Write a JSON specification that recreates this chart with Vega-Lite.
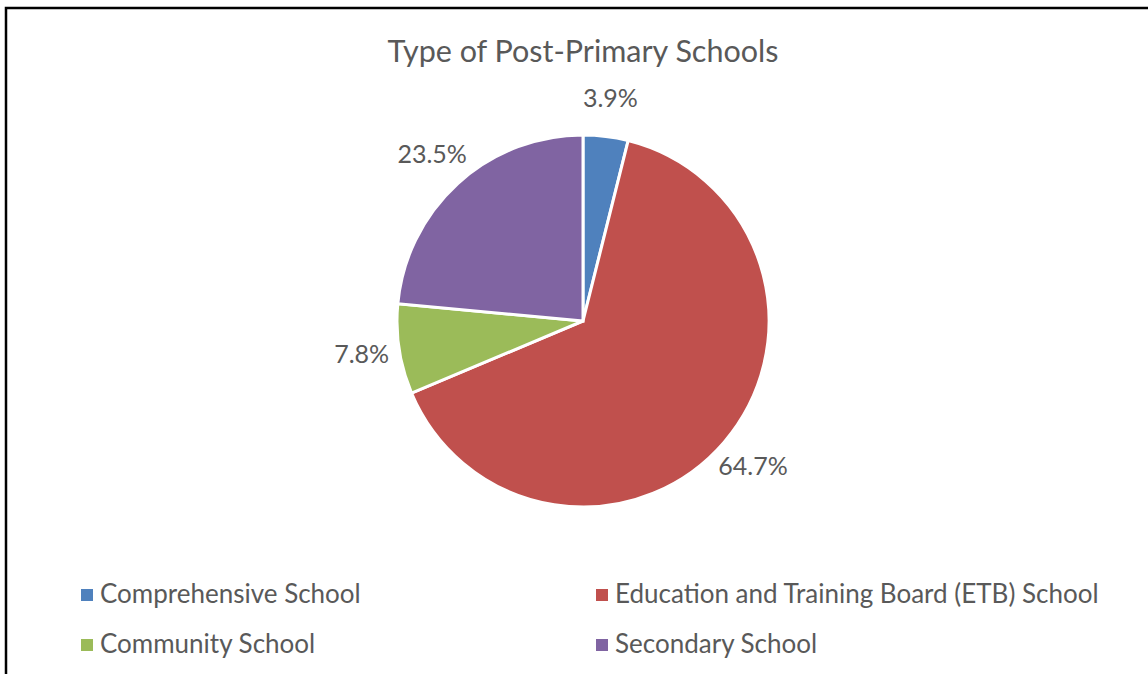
{
  "$schema": "https://vega.github.io/schema/vega-lite/v6.json",
  "autosize": "none",
  "padding": {"left": 6, "top": 8, "right": 0, "bottom": 0},
  "width": 1154,
  "height": 720,
  "background": "white",
  "view": {"stroke": "black", "strokeWidth": 2.5, "fill": "white"},
  "config": {
    "font": "Lato"
  },
  "title": {
    "text": "Type of Post-Primary Schools",
    "fontSize": 30.5,
    "fontWeight": "normal",
    "color": "#595959",
    "anchor": "middle",
    "offset": -60
  },
  "data": {
    "values": [
      {"type": "Comprehensive School", "share": 0.039, "order": 1},
      {"type": "Education and Training Board (ETB) School", "share": 0.647, "order": 2},
      {"type": "Community School", "share": 0.078, "order": 3},
      {"type": "Secondary School", "share": 0.235, "order": 4}
    ]
  },
  "encoding": {
    "theta": {"field": "share", "type": "quantitative", "stack": true},
    "order": {"field": "order", "type": "quantitative"},
    "color": {
      "field": "type",
      "type": "nominal",
      "scale": {
        "domain": ["Comprehensive School", "Education and Training Board (ETB) School", "Community School", "Secondary School"],
        "range": ["#4F81BD", "#C0504D", "#9BBB59", "#8064A2"]
      },
      "legend": {
        "title": null,
        "orient": "none",
        "direction": "horizontal",
        "legendX": 68,
        "legendY": 574,
        "columns": 2,
        "columnPadding": 228,
        "rowPadding": 24,
        "symbolType": "square",
        "symbolSize": 144,
        "symbolStrokeWidth": 0,
        "labelFontSize": 26,
        "labelColor": "#595959",
        "labelLimit": 700,
        "labelOffset": 0,
        "padding": 0
      }
    }
  },
  "layer": [
    {"mark": {"type": "arc", "outerRadius": 186, "stroke": "white", "strokeWidth": 3, "yOffset": -47}},
    {
      "mark": {"type": "text", "radius": 224, "fontSize": 25, "yOffset": -47},
      "encoding": {
        "text": {"field": "share", "type": "quantitative", "format": ".1%"},
        "color": {"value": "#595959"}
      }
    }
  ]
}
